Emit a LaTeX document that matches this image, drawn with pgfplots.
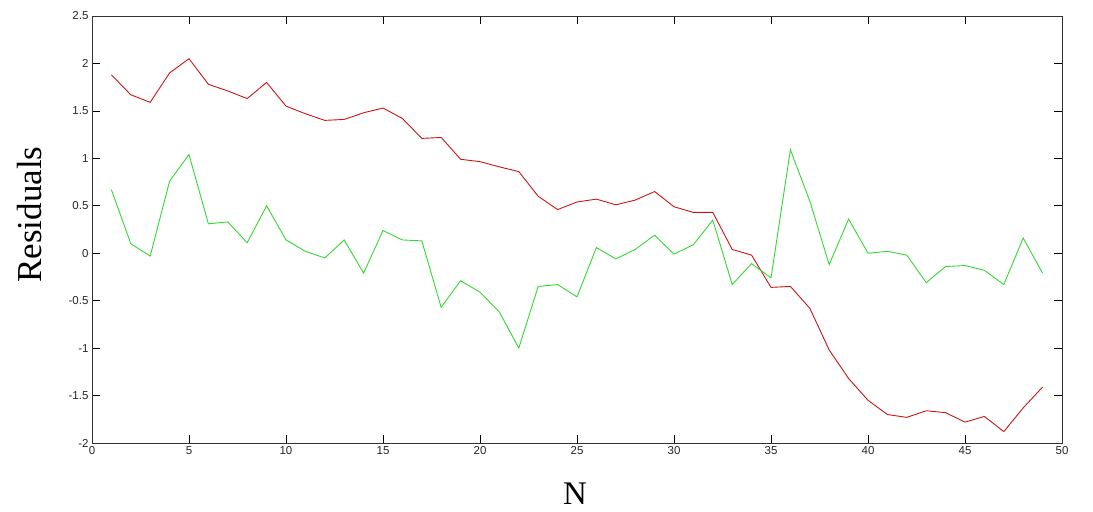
\documentclass[border=0pt]{standalone}
\usepackage{pgfplots}
\pgfplotsset{compat=1.18}
\usepackage{fontspec}
\setmainfont{Liberation Serif}
\newfontfamily\ticksfont{Liberation Sans}
\definecolor{myred}{RGB}{205,20,20}
\definecolor{mygreen}{RGB}{50,215,50}
\begin{document}
\begin{tikzpicture}
\begin{axis}[
  scale only axis,
  width=970bp, height=427bp,
  xmin=0, xmax=50, ymin=-2, ymax=2.5,
  xtick={0,5,...,50},
  ytick={-2,-1.5,...,2.5},
  tick align=inside,
  major tick length=8bp,
  tick style={black, line width=0.6pt},
  axis line style={black!80, line width=0.8pt},
  ticklabel style={font=\ticksfont\fontsize{11.5bp}{13bp}\selectfont, text=black!85},
  /pgf/number format/assume math mode=true,
  /pgf/number format/fixed,
  yticklabel style={/pgf/number format/precision=1},
  xlabel={N},
  ylabel={Residuals},
  xlabel style={font=\fontsize{33bp}{36bp}\selectfont, at={(axis description cs:0.498,-0.118)}, anchor=center},
  ylabel style={font=\fontsize{35bp}{38bp}\selectfont, at={(axis description cs:-0.064,0.535)}, anchor=center},
  clip=true,
]
\addplot[myred, line width=0.9pt] coordinates {
(1,1.88)(2,1.67)(3,1.59)(4,1.90)(5,2.05)(6,1.78)(7,1.71)(8,1.63)(9,1.80)(10,1.55)
(11,1.47)(12,1.40)(13,1.41)(14,1.48)(15,1.53)(16,1.42)(17,1.21)(18,1.22)(19,0.99)(20,0.965)
(21,0.91)(22,0.86)(23,0.60)(24,0.46)(25,0.54)(26,0.57)(27,0.51)(28,0.56)(29,0.65)(30,0.49)
(31,0.43)(32,0.43)(33,0.04)(34,-0.02)(35,-0.36)(36,-0.35)(37,-0.58)(38,-1.02)(39,-1.32)(40,-1.55)
(41,-1.70)(42,-1.73)(43,-1.66)(44,-1.68)(45,-1.78)(46,-1.72)(47,-1.88)(48,-1.63)(49,-1.41)
};
\addplot[mygreen, line width=0.9pt] coordinates {
(1,0.67)(2,0.10)(3,-0.03)(4,0.76)(5,1.04)(6,0.31)(7,0.33)(8,0.11)(9,0.50)(10,0.14)
(11,0.02)(12,-0.05)(13,0.14)(14,-0.21)(15,0.24)(16,0.14)(17,0.13)(18,-0.57)(19,-0.29)(20,-0.41)
(21,-0.62)(22,-1.00)(23,-0.35)(24,-0.33)(25,-0.46)(26,0.06)(27,-0.06)(28,0.04)(29,0.19)(30,-0.01)
(31,0.09)(32,0.35)(33,-0.33)(34,-0.11)(35,-0.26)(36,1.09)(37,0.55)(38,-0.12)(39,0.36)(40,0.00)
(41,0.02)(42,-0.02)(43,-0.31)(44,-0.14)(45,-0.13)(46,-0.18)(47,-0.33)(48,0.16)(49,-0.21)
};
\end{axis}
\path ([xshift=-92bp,yshift=-69bp]current axis.south west) rectangle ([xshift=31bp,yshift=16bp]current axis.north east);
\end{tikzpicture}
\end{document}
